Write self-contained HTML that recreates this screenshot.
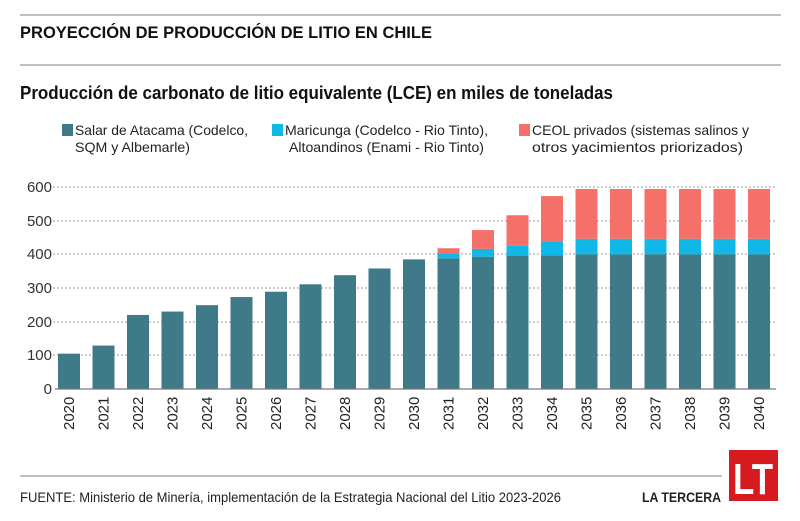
<!DOCTYPE html>
<html><head><meta charset="utf-8"><style>html,body{margin:0;padding:0;background:#fff}svg{display:block}</style></head>
<body>
<svg width="800" height="521" viewBox="0 0 800 521" xmlns="http://www.w3.org/2000/svg" font-family="Liberation Sans, sans-serif">
<line x1="20" y1="15" x2="781" y2="15" stroke="#999" stroke-width="1.2"/>
<text x="20" y="38" font-size="17" font-weight="bold" fill="#111" textLength="412" lengthAdjust="spacingAndGlyphs">PROYECCIÓN DE PRODUCCIÓN DE LITIO EN CHILE</text>
<line x1="20" y1="65" x2="781" y2="65" stroke="#999" stroke-width="1.2"/>
<text x="20" y="99" font-size="18" font-weight="bold" fill="#111" textLength="593" lengthAdjust="spacingAndGlyphs">Producción de carbonato de litio equivalente (LCE) en miles de toneladas</text>
<g font-size="14" fill="#222">
<rect x="62" y="124" width="11" height="12" fill="#3f7a89"/>
<text x="75" y="135" textLength="173" lengthAdjust="spacingAndGlyphs">Salar de Atacama (Codelco,</text>
<text x="75" y="152" textLength="115" lengthAdjust="spacingAndGlyphs">SQM y Albemarle)</text>
<rect x="272" y="124" width="11" height="12" fill="#0fb8e6"/>
<text x="285" y="135" textLength="203" lengthAdjust="spacingAndGlyphs">Maricunga (Codelco - Rio Tinto),</text>
<text x="289" y="152" textLength="195" lengthAdjust="spacingAndGlyphs">Altoandinos (Enami - Rio Tinto)</text>
<rect x="519" y="124" width="11" height="12" fill="#f47068"/>
<text x="532" y="135" textLength="217" lengthAdjust="spacingAndGlyphs">CEOL privados (sistemas salinos y</text>
<text x="532" y="152" textLength="211" lengthAdjust="spacingAndGlyphs">otros yacimientos priorizados)</text>
</g>
<g stroke="#999" stroke-width="1" stroke-dasharray="2,2">
<line x1="53" y1="187" x2="776" y2="187"/><line x1="53" y1="221" x2="776" y2="221"/>
<line x1="53" y1="254" x2="776" y2="254"/><line x1="53" y1="288" x2="776" y2="288"/>
<line x1="53" y1="322" x2="776" y2="322"/><line x1="53" y1="355" x2="776" y2="355"/>
</g>
<g font-size="15" fill="#333" text-anchor="end">
<text x="52" y="192">600</text><text x="52" y="226">500</text><text x="52" y="259">400</text>
<text x="52" y="293">300</text><text x="52" y="327">200</text><text x="52" y="360">100</text><text x="52" y="394">0</text>
</g>
<g id="bars"></g>
<line x1="55" y1="389" x2="776" y2="389" stroke="#777" stroke-width="1.2"/>
<g id="labels" font-size="15" fill="#222"></g>
<line x1="20" y1="476" x2="722" y2="476" stroke="#999" stroke-width="1.2"/>
<text x="20" y="502" font-size="14" fill="#222" textLength="541" lengthAdjust="spacingAndGlyphs">FUENTE: Ministerio de Minería, implementación de la Estrategia Nacional del Litio 2023-2026</text>
<text x="642" y="502" font-size="14" font-weight="bold" fill="#222" textLength="79" lengthAdjust="spacingAndGlyphs">LA TERCERA</text>
<rect x="729" y="450" width="49" height="51" fill="#d71920"/>
<text x="753" y="494" font-size="44" font-weight="bold" fill="#fff" text-anchor="middle" textLength="40" lengthAdjust="spacingAndGlyphs">LT</text>
</svg>
<script>
var d=[[105,0,0],[129,0,0],[220,0,0],[230,0,0],[249,0,0],[273,0,0],[289,0,0],[311,0,0],[338,0,0],[358,0,0],[385,0,0],
[388,13,17],[393,23,56],[395,30,91],[397,42,134],[400,46,148],[400,46,148],[400,46,148],[400,46,148],[400,46,148],[400,46,148]];
var ns="http://www.w3.org/2000/svg",b=document.getElementById("bars"),l=document.getElementById("labels");
var k=33.67/100,y0=389;
function r(x,y,h,c){var e=document.createElementNS(ns,"rect");e.setAttribute("x",x);e.setAttribute("y",y);e.setAttribute("width",22);e.setAttribute("height",h);e.setAttribute("fill",c);b.appendChild(e);}
d.forEach(function(v,i){var x=58+i*34.5;var t=y0;
var cs=["#3f7a89","#0fb8e6","#f47068"];
for(var j=0;j<3;j++){if(v[j]>0){var h=v[j]*k;t-=h;r(x,t,h,cs[j]);}}
var tx=document.createElementNS(ns,"text");tx.setAttribute("transform","translate("+(x+16)+",430) rotate(-90)");tx.textContent=2020+i;l.appendChild(tx);});
</script>
</body></html>
